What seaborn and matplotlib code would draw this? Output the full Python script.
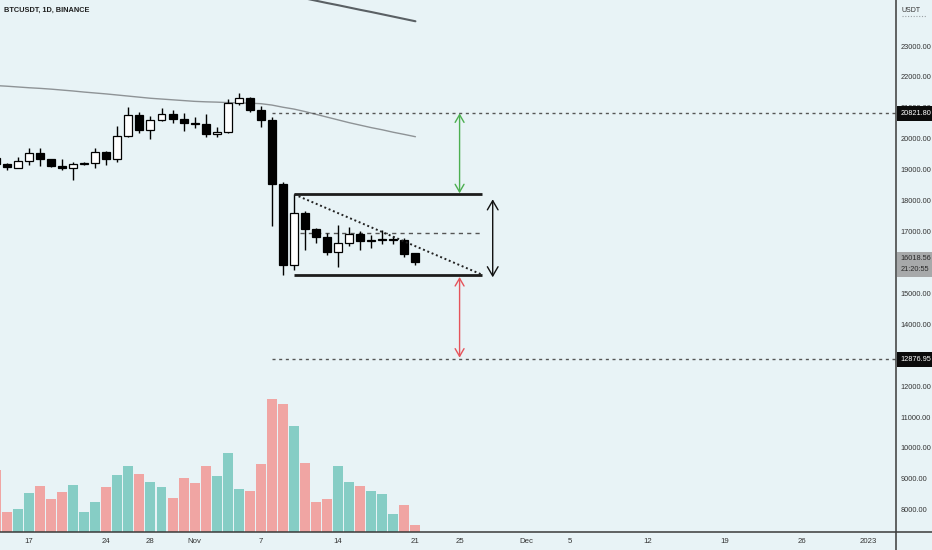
import matplotlib
matplotlib.use("Agg")
import matplotlib.pyplot as plt
import seaborn as sns
import numpy as np
import pandas as pd
from matplotlib.patches import Rectangle
from matplotlib.lines import Line2D
from matplotlib import font_manager

# ---------------- data ----------------
dates = pd.date_range("2022-10-14", "2022-11-21", freq="D")
opens  = [19382, 19185, 19070, 19270, 19550, 19335, 19125, 19060, 19175, 19205,
          19570, 19335, 20080, 20780, 20290, 20610, 20815, 20640, 20500, 20485,
          20160, 20210, 21150, 21310, 20920, 20610, 18540, 15910, 17600, 17080,
          16830, 16340, 16620, 16905, 16700, 16720, 16728, 16732, 16295]
highs  = [19951, 19228, 19420, 19690, 19700, 19360, 19345, 19250, 19250, 19690,
          19600, 20420, 21020, 20875, 20750, 20990, 20930, 20845, 20700, 20800,
          20395, 21300, 21480, 21365, 21070, 20700, 18590, 18200, 17655, 17110,
          16955, 17200, 17150, 17020, 16890, 17050, 16855, 16800, 16300]
lows   = [19075, 19000, 19060, 19160, 19120, 19075, 18990, 18660, 19140, 19070,
          19160, 19240, 20060, 20200, 20000, 20560, 20520, 20240, 20350, 20060,
          20050, 20180, 21080, 20880, 20385, 17170, 15590, 15750, 16400, 16630,
          16250, 15860, 16530, 16400, 16455, 16590, 16590, 16165, 15915]
closes = [19185, 19095, 19270, 19550, 19335, 19125, 19060, 19175, 19205, 19565,
          19335, 20080, 20780, 20280, 20610, 20815, 20640, 20500, 20485, 20160,
          20210, 21150, 21310, 20920, 20610, 18540, 15910, 17600, 17090, 16830,
          16340, 16630, 16905, 16690, 16720, 16728, 16732, 16275, 16020]
volumes = [370, 122, 140, 234, 276, 198, 238, 282, 118, 178, 272, 342, 398, 346,
           302, 268, 206, 322, 296, 396, 336, 476, 260, 244, 408, 798, 770, 638,
           416, 180, 198, 398, 298, 276, 244, 228, 110, 164, 44]

# moving-average lines
ma_mid_start = "2022-10-14"
ma_mid = [21720, 21700, 21675, 21650, 21630, 21605, 21575, 21545, 21510, 21480,
          21450, 21415, 21380, 21345, 21310, 21285, 21260, 21235, 21210, 21195,
          21185, 21170, 21160, 21150, 21135, 21090, 21020, 20960, 20880, 20790,
          20700, 20610, 20520, 20440, 20360, 20290, 20210, 20140, 20066]
ma_slow_start = "2022-11-09"
ma_slow = [24685, 24610, 24540, 24465, 24390, 24320, 24245, 24170, 24100,
           24025, 23950, 23875, 23800]

tick_dates = ["2022-10-17", "2022-10-24", "2022-10-28", "2022-11-01", "2022-11-07",
              "2022-11-14", "2022-11-21", "2022-11-25", "2022-12-01", "2022-12-05",
              "2022-12-12", "2022-12-19", "2022-12-26", "2023-01-01"]
tick_labels = ["17", "24", "28", "Nov", "7", "14", "21", "25", "Dec", "5",
               "12", "19", "26", "2023"]
price_ticks = [8000, 9000, 10000, 11000, 12000, 13000, 14000, 15000,
               17000, 18000, 19000, 20000, 21000, 22000, 23000]

target_high = 20821.80
target_low = 12876.95
last_price = 16018.56
countdown = "21:20:55"
box_top, box_bottom, box_mid = 18200, 15600, 16943
title = "BTCUSDT, 1D, BINANCE"

# ---------------- style ----------------
sns.set_style("white")
avail = {f.name for f in font_manager.fontManager.ttflist}
fams = [f for f in ["Liberation Sans Narrow", "Liberation Sans", "DejaVu Sans"] if f in avail]
plt.rcParams["font.family"] = fams

BG = "#E8F3F6"
W, H = 932, 550
origin = pd.Timestamp("2022-10-14")
def dnum(d):
    return (pd.Timestamp(d) - origin).days

x = np.array([(d - origin).days for d in dates])
o = np.array(opens); h = np.array(highs); l = np.array(lows); c = np.array(closes)
up = c >= o

XMIN, XMAX = 0.371, 81.53
YMIN, YMAX = 7282, 24488

fig = plt.figure(figsize=(W / 100, H / 100), dpi=100, facecolor=BG)
rect = [0, 18 / H, 896 / W, 532 / H]
ax_v = fig.add_axes(rect)
ax = fig.add_axes(rect)
ax_v.set_facecolor(BG)
ax.patch.set_visible(False)

# volume
vcol = np.where(up, "#86CDC5", "#F0A5A3")
ax_v.bar(x, volumes, width=0.9, color=vcol, edgecolor="none")
ax_v.set_xlim(XMIN, XMAX)
ax_v.set_ylim(0, 798 * 532 / 133)
ax_v.axis("off")

# moving averages
mid_df = pd.DataFrame({"x": np.arange(len(ma_mid)) + dnum(ma_mid_start), "y": ma_mid})
slow_df = pd.DataFrame({"x": np.arange(len(ma_slow)) + dnum(ma_slow_start), "y": ma_slow})
sns.lineplot(data=mid_df, x="x", y="y", ax=ax, color="#8E9396", linewidth=1.0, zorder=2)
sns.lineplot(data=slow_df, x="x", y="y", ax=ax, color="#5A6064", linewidth=1.5, zorder=2)

# candles
ax.vlines(x, l, h, color="black", linewidth=1.0, zorder=3)
body_bot = np.minimum(o, c)
body_h = np.maximum(np.abs(c - o), 30)
ax.bar(x, body_h, bottom=body_bot, width=0.72,
       color=np.where(up, "white", "black"), edgecolor="black", linewidth=0.9, zorder=4)

# horizontal dashed levels
x_lvl = dnum("2022-11-08") + 0.05
ax.hlines([target_high, target_low], x_lvl, XMAX, colors="#555", linewidth=1.0,
          linestyles=(0, (2.2, 2.6)), zorder=2)

# pattern box
bx0, bx1 = 27.03, 44.06
ax.hlines([box_top, box_bottom], bx0, bx1, colors="#1c1c1c", linewidth=2.0, zorder=5)
ax.hlines(box_mid, 27.5, bx1, colors="#555", linewidth=1.0, linestyles=(0, (3, 3)), zorder=2)
ax.plot([bx0, bx1], [box_top, box_bottom], color="#222", linewidth=1.4,
        linestyle=(0, (1, 1.4)), zorder=5)

# arrows
def darrow(xd, y0, y1, col, ms=11):
    ax.annotate("", xy=(xd, y1), xytext=(xd, y0),
                arrowprops=dict(arrowstyle="<->,head_length=0.55,head_width=0.32",
                                color=col, lw=1.0, shrinkA=0, shrinkB=0,
                                mutation_scale=ms), zorder=6)
darrow(45.0, 18042, 15520, "#111111", ms=12)
darrow(42.0, 18236, target_high, "#4CAF50", ms=10)
darrow(42.0, 15530, 12920, "#E5535A", ms=10)

ax.set_xlim(XMIN, XMAX)
ax.set_ylim(YMIN, YMAX)
ax.set_xlabel(""); ax.set_ylabel("")
for s in ax.spines.values():
    s.set_visible(False)

ax.set_xticks([dnum(d) for d in tick_dates])
ax.set_xticklabels(tick_labels)
ax.set_yticks(price_ticks)
ax.set_yticklabels([f"{p:.2f}" for p in price_ticks])
ax.tick_params(axis="x", length=0, pad=4, labelsize=5.6, labelcolor="#333")
ax.tick_params(axis="y", left=False, right=False, labelleft=False, labelright=True,
               length=0, pad=3.4, labelsize=5.3, labelcolor="#333")

# axis frame lines
fig.add_artist(Line2D([0, 1], [18 / H, 18 / H], color="#3a3a3a", lw=1.1))
fig.add_artist(Line2D([896 / W, 896 / W], [0, 1], color="#3a3a3a", lw=1.1))

def fy(p):
    return 18 / H + (p - YMIN) / (YMAX - YMIN) * 532 / H

def price_box(p, lines, fc, tc, hpx):
    yc = fy(p)
    fig.add_artist(Rectangle((897 / W, yc - hpx / 2 / H), 35 / W, hpx / H,
                             transform=fig.transFigure, facecolor=fc, edgecolor="none",
                             zorder=10))
    n = len(lines)
    for i, t in enumerate(lines):
        off = (i - (n - 1) / 2) * 11 / H
        fig.text(900.5 / W, yc - off, t, color=tc, fontsize=5.3, va="center",
                 ha="left", zorder=11)

price_box(target_high, [f"{target_high:.2f}"], "#0b0b0b", "white", 15)
price_box(target_low, [f"{target_low:.2f}"], "#0b0b0b", "white", 15)
price_box(last_price - 70, [f"{last_price:.2f}", countdown], "#A7A9AA", "#2a2a2a", 25)

# header texts
fig.text(4 / W, 1 - 10 / H, title, fontsize=5.3, fontweight="bold", color="#1f1f1f",
         va="center", ha="left")
fig.text(902 / W, 1 - 10 / H, "USDT", fontsize=5.0, color="#333", va="center", ha="left")
fig.add_artist(Line2D([902 / W, 927 / W], [1 - 16 / H, 1 - 16 / H], color="#9aa0a3",
                      lw=0.8, linestyle=(0, (1, 1.5))))

fig.savefig("out.png", dpi=100, facecolor=BG)
